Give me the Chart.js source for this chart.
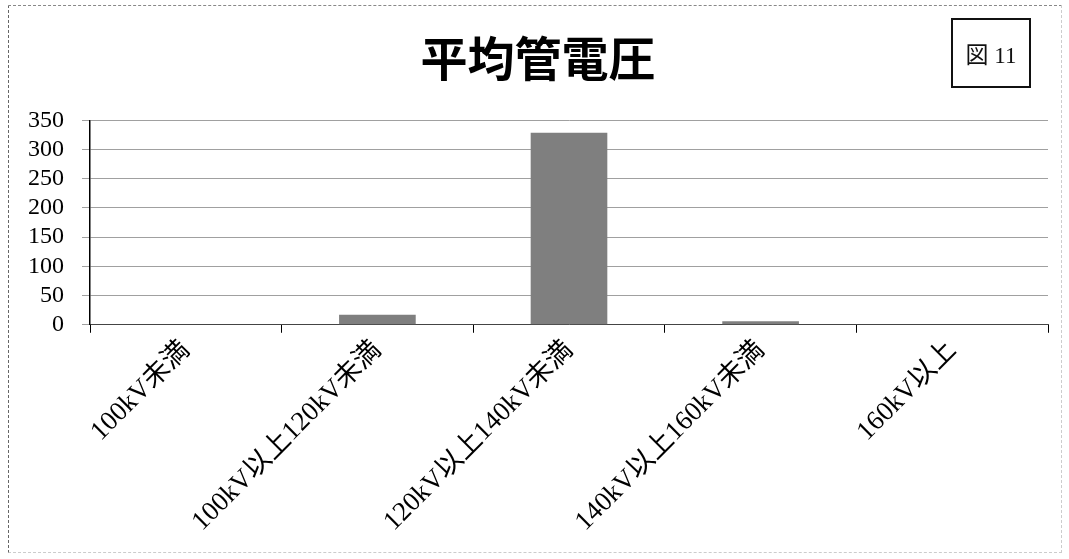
<!DOCTYPE html>
<html><head><meta charset="utf-8">
<script src="https://cdn.jsdelivr.net/npm/chart.js@4"></script>
<style>
html,body{margin:0;padding:0;background:#fff;}
#wrap{position:relative;width:1069px;height:559px;overflow:hidden;}
#frame{position:absolute;left:8px;top:5px;width:1054px;height:548px;border-left:1px dashed #666;border-top:1px dashed #888;border-right:1px dashed #ccc;border-bottom:1px dashed #ccc;box-sizing:border-box;pointer-events:none}
#fig{position:absolute;left:951px;top:18px;width:80px;height:70px;border:2px solid #111;box-sizing:border-box;font:23px "Liberation Serif","Noto Sans CJK JP",serif;color:#111;display:flex;align-items:center;justify-content:center;}
canvas{position:absolute;left:0;top:0;}
</style></head><body>
<div id="wrap"><canvas id="c" width="1069" height="559"></canvas><div id="frame"></div><div id="fig">図 11</div></div>
<script>
const categories = ["100kV未満", "100kV以上120kV未満", "120kV以上140kV未満", "140kV以上160kV未満", "160kV以上"];
const counts = [0, 17, 329, 6, 1];
const yTicks = [0, 50, 100, 150, 200, 250, 300, 350];
const chartTitle = "平均管電圧";

const serif = '"Liberation Serif", "Noto Sans CJK JP", serif';

new Chart(document.getElementById('c'), {
  type: 'bar',
  data: {
    labels: categories,
    datasets: [{
      data: counts,
      backgroundColor: '#7f7f7f',
      borderWidth: 0,
      categoryPercentage: 1,
      barPercentage: 0.4
    }]
  },
  options: {
    responsive: false,
    animation: false,
    devicePixelRatio: 1,
    layout: { padding: { left: 28, right: 21, top: 0, bottom: 19 } },
    plugins: {
      legend: { display: false },
      tooltip: { enabled: false },
      title: {
        display: true,
        text: chartTitle,
        color: '#000',
        font: { size: 47, weight: 'bold', family: '"Noto Sans CJK JP", sans-serif' },
        padding: { top: 30, bottom: 34 }
      }
    },
    scales: {
      x: {
        afterFit: (axis) => { axis.paddingLeft = 0; axis.paddingRight = 0; },
        grid: { display: true, drawOnChartArea: false, drawTicks: true, tickLength: 8, color: '#000', offset: true },
        border: { display: true, color: '#444', width: 1 },
        ticks: {
          color: '#000',
          font: { size: 27, family: serif },
          maxRotation: 45, minRotation: 45,
          autoSkip: false,
          padding: 2
        }
      },
      y: {
        min: 0, max: 350,
        afterBuildTicks: (axis) => { axis.ticks = yTicks.map(v => ({ value: v })); },
        afterFit: (axis) => { axis.width = 62; },
        grid: { color: '#a0a0a0', lineWidth: 1, tickLength: 8, drawTicks: true },
        border: { display: true, color: '#000', width: 1.5 },
        ticks: {
          color: '#000',
          font: { size: 24, family: serif },
          autoSkip: false,
          padding: 18
        }
      }
    }
  }
});
</script>
</body></html>
